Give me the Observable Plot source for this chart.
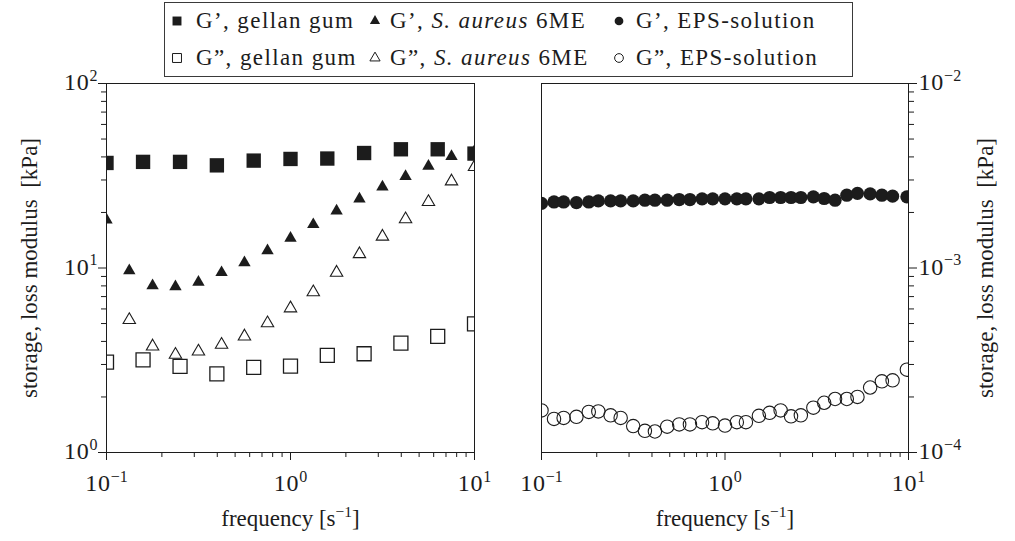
<!DOCTYPE html>
<html><head><meta charset="utf-8">
<script src="https://cdn.jsdelivr.net/npm/d3@7"></script>
<script src="https://cdn.jsdelivr.net/npm/@observablehq/plot@0.6"></script>
<style>
body{margin:0;background:#fff;}
#wrap{position:relative;width:1015px;height:541px;font-family:"Liberation Serif",serif;color:#1c1c1c;overflow:hidden;background:#fff;}
#legend{position:absolute;z-index:5;left:164px;top:2px;width:689px;height:75px;border:1.5px solid #3a3a3a;box-sizing:border-box;background:transparent;}
.entry{position:absolute;font-size:23px;letter-spacing:1.4px;line-height:24px;white-space:nowrap;}
.mk{position:absolute;}
.panel{position:absolute;top:60px;z-index:1;}
</style></head><body>
<div id="wrap"><div id="legend"></div><div id="left" class="panel" style="left:0px"></div><div id="right" class="panel" style="left:507px"></div></div>
<script>
// ---- data ----
const freqGellan = [0.1, 0.158, 0.251, 0.398, 0.631, 1, 1.585, 2.512, 3.981, 6.31, 10];
const gPrimeGellan = [37.1, 37.6, 37.6, 36.0, 38.2, 39.0, 39.2, 42.0, 44.0, 44.0, 41.7];
const gDoublePrimeGellan = [3.09, 3.18, 2.93, 2.67, 2.89, 2.94, 3.36, 3.43, 3.92, 4.26, 4.98];

const freqAureus = [0.1, 0.133, 0.178, 0.237, 0.316, 0.422, 0.562, 0.75, 1, 1.33, 1.78, 2.37, 3.16, 4.22, 5.62, 7.5, 10];
const gPrimeAureus = [18.2, 9.67, 8.02, 7.92, 8.37, 9.45, 10.7, 12.4, 14.5, 17.2, 20.4, 23.7, 27.5, 31.4, 35.6, 40.3, 43.0];
const gDoublePrimeAureus = [null, 5.23, 3.76, 3.39, 3.53, 3.84, 4.26, 5.02, 6.05, 7.39, 9.44, 11.9, 14.8, 18.4, 22.8, 29.5, 35.3];

const freqEps = [0.1, 0.117, 0.132, 0.155, 0.181, 0.204, 0.238, 0.27, 0.316, 0.366, 0.415, 0.484, 0.563, 0.644, 0.75, 0.857, 1.0, 1.16, 1.30, 1.53, 1.75, 2.01, 2.29, 2.59, 3.03, 3.47, 3.98, 4.61, 5.27, 6.18, 7.16, 8.19, 9.8];
const gPrimeEps = [2.24e-3, 2.28e-3, 2.28e-3, 2.26e-3, 2.28e-3, 2.31e-3, 2.31e-3, 2.31e-3, 2.31e-3, 2.33e-3, 2.33e-3, 2.33e-3, 2.35e-3, 2.35e-3, 2.37e-3, 2.37e-3, 2.37e-3, 2.37e-3, 2.37e-3, 2.37e-3, 2.41e-3, 2.41e-3, 2.41e-3, 2.41e-3, 2.43e-3, 2.38e-3, 2.33e-3, 2.48e-3, 2.54e-3, 2.52e-3, 2.48e-3, 2.45e-3, 2.43e-3];
const gDoublePrimeEps = [1.69e-4, 1.52e-4, 1.54e-4, 1.56e-4, 1.66e-4, 1.67e-4, 1.59e-4, 1.54e-4, 1.39e-4, 1.31e-4, 1.30e-4, 1.38e-4, 1.42e-4, 1.42e-4, 1.46e-4, 1.44e-4, 1.40e-4, 1.46e-4, 1.46e-4, 1.58e-4, 1.64e-4, 1.69e-4, 1.57e-4, 1.59e-4, 1.75e-4, 1.86e-4, 1.95e-4, 1.95e-4, 2.0e-4, 2.25e-4, 2.43e-4, 2.46e-4, 2.81e-4];

// ---- ticks and labels ----
const xMajorTicks = [0.1, 1, 10];
const xMajorLabels = ["10^{−1}", "10^{0}", "10^{1}"];
const xMinorTicks = [0.2, 0.3, 0.4, 0.5, 0.6, 0.7, 0.8, 0.9, 2, 3, 4, 5, 6, 7, 8, 9];
const leftYMajor = [1, 10, 100];
const leftYLabels = ["10^{0}", "10^{1}", "10^{2}"];
const leftYMinor = [2, 3, 4, 5, 6, 7, 8, 9, 20, 30, 40, 50, 60, 70, 80, 90];
const rightYMajor = [1e-4, 1e-3, 1e-2];
const rightYLabels = ["10^{−4}", "10^{−3}", "10^{−2}"];
const rightYMinor = [2e-4, 3e-4, 4e-4, 5e-4, 6e-4, 7e-4, 8e-4, 9e-4, 2e-3, 3e-3, 4e-3, 5e-3, 6e-3, 7e-3, 8e-3, 9e-3];
const xTitle = "frequency [s^{−1}]";
const yTitle = "storage, loss modulus  [kPa]";

const legendItems = [
  {sym: "square", fill: true, html: "G’, gellan gum"},
  {sym: "triangle", fill: true, html: "G’, <i>S. aureus</i> 6ME"},
  {sym: "circle", fill: true, html: "G’, EPS-solution"},
  {sym: "square", fill: false, html: "G”, gellan gum"},
  {sym: "triangle", fill: false, html: "G”, <i>S. aureus</i> 6ME"},
  {sym: "circle", fill: false, html: "G”, EPS-solution"}
];

const ink = "#1c1c1c";
const rows = (xs, ys) => xs.map((x, i) => ({x, y: ys[i]})).filter(d => d.y != null);
const fmt = (ticks, labels) => d => { const i = ticks.findIndex(t => Math.abs(t - d) / t < 1e-6); return i >= 0 ? labels[i] : ""; };
const style = {fontFamily: "Liberation Serif, serif", fontSize: "21px", color: ink, background: "transparent", overflow: "visible"};

function supify(svg) {
  d3.select(svg).selectAll("text").each(function() {
    const t = this.textContent;
    if (!t.includes("^{")) return;
    const m = t.match(/^(.*)\^\{([^}]*)\}(.*)$/);
    if (!m) return;
    const isTick = !!this.closest('g[aria-label$="tick label"]');
    const base = isTick ? 24 : 23, sup = isTick ? 16 : 15.5, rise = isTick ? 9.5 : 9;
    const sel = d3.select(this);
    sel.text(null);
    sel.append("tspan").style("font-size", base + "px").attr("letter-spacing", isTick ? "0.8px" : null).text(m[1]);
    sel.append("tspan").attr("dy", -rise).style("font-size", sup + "px").attr("letter-spacing", "0").text(m[2]);
    if (m[3]) sel.append("tspan").attr("dy", rise).style("font-size", base + "px").text(m[3]);
  });
  return svg;
}

const titleOpts = {fontSize: 23, fill: ink, textAnchor: "middle", letterSpacing: "1.4px"};

const leftPlot = Plot.plot({
  width: 507, height: 480,
  marginLeft: 106, marginRight: 33, marginTop: 23, marginBottom: 88,
  style,
  x: {type: "log", domain: [0.1, 10]},
  y: {type: "log", domain: [1, 100]},
  marks: [
    Plot.axisX({ticks: xMinorTicks, tickSize: 5, tickFormat: () => "", label: null, stroke: ink}),
    Plot.axisX({ticks: xMajorTicks, tickSize: 8, tickPadding: 16, tickFormat: fmt(xMajorTicks, xMajorLabels), label: null, stroke: ink, fill: ink}),
    Plot.axisY({ticks: leftYMinor, tickSize: 5, tickFormat: () => "", label: null, stroke: ink}),
    Plot.axisY({ticks: leftYMajor, tickSize: 8, tickPadding: 1, tickFormat: fmt(leftYMajor, leftYLabels), label: null, stroke: ink, fill: ink}),
    Plot.dot(rows(freqGellan, gDoublePrimeGellan), {x: "x", y: "y", symbol: "square", r: 7.9, stroke: ink, strokeWidth: 1.3, fill: "none", clip: true}),
    Plot.dot(rows(freqAureus, gDoublePrimeAureus), {x: "x", y: "y", symbol: "triangle", r: 4.6, stroke: ink, strokeWidth: 1.1, fill: "none", clip: true}),
    Plot.dot(rows(freqAureus, gPrimeAureus), {x: "x", y: "y", symbol: "triangle", r: 4.6, fill: ink, stroke: "none", clip: true}),
    Plot.dot(rows(freqGellan, gPrimeGellan), {x: "x", y: "y", symbol: "square", r: 8.1, fill: ink, stroke: "none", clip: true}),
    Plot.frame({stroke: ink, strokeWidth: 1}),
    Plot.text([xTitle], {frameAnchor: "bottom", dy: 73, ...titleOpts}),
    Plot.text([yTitle], {frameAnchor: "left", dx: -77, rotate: -90, ...titleOpts})
  ]
});

const rightPlot = Plot.plot({
  width: 508, height: 480,
  marginLeft: 34, marginRight: 107, marginTop: 23, marginBottom: 88,
  style,
  x: {type: "log", domain: [0.1, 10]},
  y: {type: "log", domain: [1e-4, 1e-2]},
  marks: [
    Plot.axisX({ticks: xMinorTicks, tickSize: 5, tickFormat: () => "", label: null, stroke: ink}),
    Plot.axisX({ticks: xMajorTicks, tickSize: 8, tickPadding: 16, tickFormat: fmt(xMajorTicks, xMajorLabels), label: null, stroke: ink, fill: ink}),
    Plot.axisY({anchor: "right", ticks: rightYMinor, tickSize: 5, tickFormat: () => "", label: null, stroke: ink}),
    Plot.axisY({anchor: "right", ticks: rightYMajor, tickSize: 8, tickPadding: 2, tickFormat: fmt(rightYMajor, rightYLabels), label: null, stroke: ink, fill: ink}),
    Plot.dot(rows(freqEps, gDoublePrimeEps), {x: "x", y: "y", r: 6.7, stroke: ink, strokeWidth: 1.1, fill: "none", clip: true}),
    Plot.dot(rows(freqEps, gPrimeEps), {x: "x", y: "y", r: 6.6, fill: ink, stroke: "none", clip: true}),
    Plot.frame({stroke: ink, strokeWidth: 1}),
    Plot.text([xTitle], {frameAnchor: "bottom", dy: 73, ...titleOpts}),
    Plot.text([yTitle], {frameAnchor: "right", dx: 77, rotate: -90, ...titleOpts})
  ]
});

document.getElementById("left").appendChild(supify(leftPlot));
document.getElementById("right").appendChild(supify(rightPlot));

// ---- legend ----
const legend = document.getElementById("legend");
const colText = [195, 389, 635], colMk = [176, 374, 618], rowY = [20, 57];
legendItems.forEach((it, i) => {
  const c = i % 3, r = Math.floor(i / 3);
  const mk = document.createElementNS("http://www.w3.org/2000/svg", "svg");
  mk.setAttribute("width", 14); mk.setAttribute("height", 14);
  mk.setAttribute("class", "mk");
  mk.style.left = (colMk[c] - 164 - 7) + "px";
  mk.style.top = (rowY[r] - 2 - 7) + "px";
  const sz = it.sym === "square" ? 80 : it.sym === "triangle" ? 45 : 60;
  const p = d3.select(mk).append("path")
    .attr("transform", "translate(7,7)")
    .attr("d", d3.symbol(it.sym === "square" ? d3.symbolSquare : it.sym === "triangle" ? d3.symbolTriangle : d3.symbolCircle, sz)());
  if (it.fill) p.attr("fill", ink); else p.attr("fill", "none").attr("stroke", ink).attr("stroke-width", 1);
  legend.appendChild(mk);
  const e = document.createElement("div");
  e.className = "entry";
  e.innerHTML = it.html;
  e.style.left = (colText[c] - 164) + "px";
  e.style.top = (rowY[r] - 2 - 12) + "px";
  legend.appendChild(e);
});
</script>
</body></html>
